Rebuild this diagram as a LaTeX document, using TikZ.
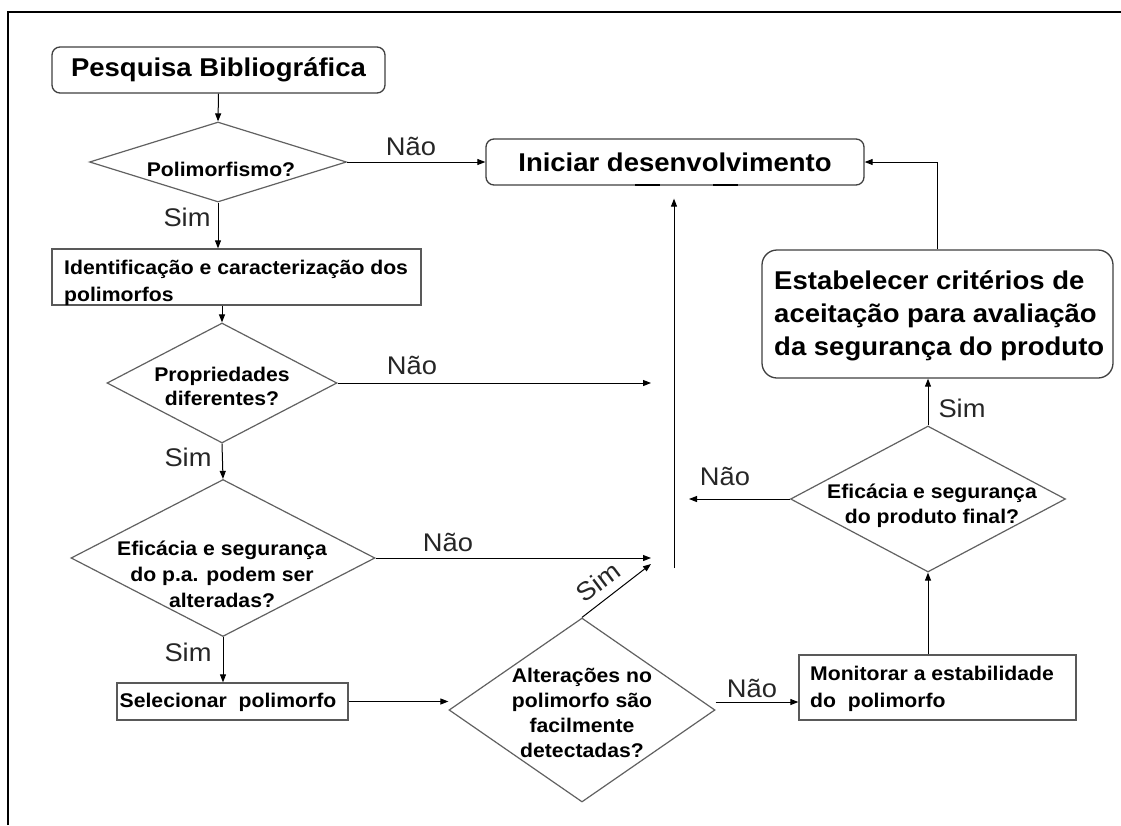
\documentclass[tikz,border=0pt]{standalone}
\usepackage{fontspec}
\setmainfont{Liberation Sans}[FakeStretch=1.07]
\usetikzlibrary{shapes.geometric,arrows.meta}
\begin{document}
\begin{tikzpicture}[x=1pt,y=-1pt,
  arr/.style={draw=black, line width=1pt, -{Triangle[length=8pt,width=6pt]}},
  dia/.style={diamond, draw=black!62, line width=1.2pt, inner sep=0pt},
  rbox/.style={rectangle, rounded corners=8pt, draw=black!75, line width=1.3pt, inner sep=0pt},
  sbox/.style={rectangle, draw=black!65, line width=1.3pt, inner sep=0pt},
  big/.style={font=\fontsize{25.7}{33}\selectfont\bfseries},
  small/.style={font=\fontsize{19.8}{25}\selectfont\bfseries, inner sep=0pt},
  lab/.style={font=\fontsize{25.5}{28}\selectfont, inner sep=0pt, text=black!85},
]
\useasboundingbox (0,0) rectangle (1121,825);
\fill[white] (0,0) rectangle (1121,825);
\draw[line width=1.5pt] (8,825) -- (8,12) -- (1121,12);

% nodes
\node[rbox, big, minimum width=333pt, minimum height=46pt] (pesq) at (218.5,70) {Pesquisa Bibliográfica};
\node[dia, minimum width=257pt, minimum height=80pt] (d1) at (218,162) {};
\node[small] (d1t) at (221,169) {Polimorfismo?};
\node[rbox, big, minimum width=378pt, minimum height=46pt] (ini) at (675,162) {Iniciar desenvolvimento};
\draw[line width=2.5pt] (635,185) -- (660,185);
\draw[line width=2.5pt] (713,185) -- (738,185);

\node[sbox, minimum width=369pt, minimum height=56pt] (id) at (236.5,277) {};
\node[small, font=\fontsize{19.8}{27}\selectfont\bfseries, align=left, anchor=west] (idt) at (64,283) {Identificação e caracterização dos\\polimorfos};

\node[dia, minimum width=230pt, minimum height=120pt] (d2) at (222,383) {};
\node[small, font=\fontsize{19.8}{24}\selectfont\bfseries, align=center] (d2t) at (222,386) {Propriedades\\diferentes?};

\node[dia, minimum width=304pt, minimum height=157pt] (d3) at (223,558) {};
\node[small, font=\fontsize{19.8}{26}\selectfont\bfseries, align=center] (d3t) at (222,574) {Eficácia e segurança\\do p.a. podem ser\\alteradas?};

\node[sbox, minimum width=231pt, minimum height=37pt] (sel) at (232.5,701.5) {};
\node[small] (selt) at (228,702) {Selecionar\ \ polimorfo};

\node[dia, minimum width=266pt, minimum height=184pt] (d4) at (582,710) {};
\node[small, font=\fontsize{19.8}{25}\selectfont\bfseries, align=center] (d4t) at (582,713) {Alterações no\\polimorfo são\\facilmente\\detectadas?};

\node[sbox, minimum width=277pt, minimum height=65pt] (mon) at (937.5,687.5) {};
\node[small, font=\fontsize{19.8}{27}\selectfont\bfseries, align=left, anchor=west] (mont) at (810,689) {Monitorar a estabilidade\\do\ \ polimorfo};

\node[dia, minimum width=275pt, minimum height=146pt] (d5) at (928,499) {};
\node[small, font=\fontsize{19.8}{25}\selectfont\bfseries, align=center] (d5t) at (932,506) {Eficácia e segurança\\do produto final?};

\node[rbox, rounded corners=15pt, minimum width=351pt, minimum height=128pt] (est) at (937.5,314) {};
\node[big, font=\fontsize{25.7}{33}\selectfont\bfseries, align=left, anchor=west, inner sep=0pt] (estt) at (774,316) {Estabelecer critérios de\\aceitação para avaliação\\da segurança do produto};

% free ends
\coordinate (j2) at (651,383);
\coordinate (j3) at (651,558);
\coordinate (j4) at (651,564);
\coordinate (j5) at (689,499);
\coordinate (j6) at (674,568);

% connectors
\draw[arr] (pesq.south) -- (d1.north);
\draw[arr] (d1.east) -- (ini.west);
\node[lab] at (411,146) {Não};
\draw[arr] (d1.south) -- (d1.south |- id.north);
\node[lab] at (187,217) {Sim};
\draw[arr] (d2.north |- id.south) -- (d2.north);
\draw[arr] (d2.east) -- (j2);
\node[lab] at (412,365) {Não};
\draw[arr] (d2.south) -- (d3.north);
\node[lab] at (188,457) {Sim};
\draw[arr] (d3.east) -- (j3);
\node[lab] at (448,542) {Não};
\draw[arr] (d3.south) -- (d3.south |- sel.north);
\node[lab] at (188,652) {Sim};
\draw[arr] (sel.east) -- (sel.east -| d4.west);
\draw[arr] (d4.north) -- (j4);
\node[lab, rotate=37] at (598,582) {Sim};
\draw[arr] ([yshift=8pt]d4.east) -- ([yshift=8pt]d4.east -| mon.west);
\node[lab] at (752,688) {Não};
\draw[arr] (d5.south |- mon.north) -- (d5.south);
\draw[arr] (d5.west) -- (j5);
\node[lab] at (725,476) {Não};
\draw[arr] (d5.north) -- (d5.north |- est.south);
\node[lab] at (962,408) {Sim};
\draw[arr] (est.north) |- (ini.east);
\draw[arr] (j6) -- ([yshift=-13pt]ini.south -| j6);
\end{tikzpicture}
\end{document}
